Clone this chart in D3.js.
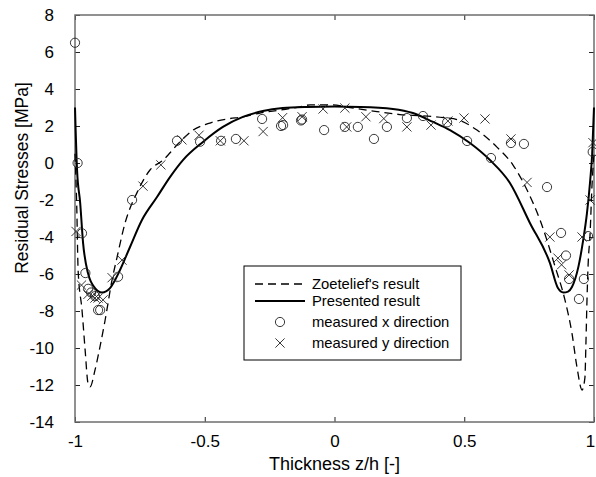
<!DOCTYPE html>
<html>
<head>
<meta charset="utf-8">
<script src="https://cdn.jsdelivr.net/npm/d3@7"></script>
<style>
  body { margin: 0; background: #fff; }
  text { font-family: Arial, "Liberation Sans", sans-serif; fill: #000; }
</style>
</head>
<body>
<svg id="chart"></svg>
<script>
// ticks
const xTicks = [-1, -0.5, 0, 0.5, 1];
const yTicks = [-14, -12, -10, -8, -6, -4, -2, 0, 2, 4, 6, 8];

// presented result (solid)
const solidZ = [-1, -0.992, -0.98, -0.969, -0.95, -0.923, -0.896, -0.865, -0.827, -0.788, -0.742, -0.684, -0.634, -0.584, -0.507, -0.43, -0.353, -0.276, -0.2, -0.106, 0, 0.1, 0.225, 0.302, 0.38, 0.445, 0.522, 0.599, 0.676, 0.753, 0.83, 0.861, 0.882, 0.9, 0.915, 0.94, 0.958, 0.973, 0.985, 0.993, 1];
const solidV = [3.0, -0.4, -2.16, -4.3, -5.95, -6.76, -7.0, -6.76, -5.8, -4.54, -3.08, -1.84, -0.76, 0.16, 1.14, 1.95, 2.49, 2.81, 2.97, 3.03, 3.05, 3.03, 2.92, 2.7, 2.22, 1.78, 1.08, 0.16, -1.08, -3.24, -5.4, -6.76, -7.0, -6.95, -6.7, -5.6, -4.2, -2.7, -1.0, 0.5, 3.0];

// Zoetelief's result (dashed)
const dashZ = [-1, -0.993, -0.988, -0.973, -0.961, -0.95, -0.942, -0.923, -0.904, -0.884, -0.857, -0.838, -0.807, -0.761, -0.711, -0.661, -0.607, -0.545, -0.48, -0.414, -0.353, -0.287, -0.21, -0.133, -0.094, -0.006, 0.06, 0.164, 0.252, 0.34, 0.42, 0.472, 0.549, 0.626, 0.688, 0.742, 0.792, 0.85, 0.888, 0.915, 0.934, 0.954, 0.965, 0.969, 0.973, 0.977, 0.985, 0.992, 1];
const dashV = [0.5, -2.5, -5.8, -7.95, -10.1, -11.9, -12.1, -11.2, -9.95, -8.5, -6.3, -5.1, -3.24, -1.6, -0.38, 0.15, 0.97, 1.78, 2.16, 2.38, 2.49, 2.7, 2.86, 3.03, 3.14, 3.14, 3.0, 2.78, 2.62, 2.55, 2.45, 2.35, 1.78, 0.86, -0.11, -1.46, -3.08, -5.6, -7.4, -9.2, -11.0, -12.27, -11.6, -9.7, -7.4, -5.6, -3.8, -1.3, 0.5];

// measured x direction (circles)
const measXZ = [-1, -0.99, -0.973, -0.96, -0.949, -0.938, -0.923, -0.911, -0.903, -0.834, -0.78, -0.607, -0.518, -0.437, -0.38, -0.279, -0.206, -0.198, -0.129, -0.125, -0.04, 0.04, 0.09, 0.152, 0.202, 0.279, 0.341, 0.434, 0.511, 0.603, 0.68, 0.73, 0.819, 0.873, 0.892, 0.904, 0.942, 0.961, 0.977, 0.995];
const measXV = [6.5, 0, -3.8, -5.95, -6.8, -7.0, -7.2, -7.95, -7.95, -6.15, -2.0, 1.2, 1.15, 1.2, 1.3, 2.38, 2.0, 2.05, 2.3, 2.35, 1.78, 1.95, 1.95, 1.3, 1.95, 2.43, 2.54, 2.2, 1.19, 0.27, 1.08, 1.03, -1.3, -3.78, -5.0, -6.27, -7.35, -6.27, -3.95, 0.6];

// measured y direction (crosses)
const measYZ = [-0.996, -0.975, -0.95, -0.935, -0.923, -0.911, -0.892, -0.857, -0.819, -0.738, -0.669, -0.588, -0.522, -0.44, -0.349, -0.275, -0.2, -0.125, -0.044, 0.04, 0.047, 0.121, 0.19, 0.279, 0.372, 0.437, 0.499, 0.58, 0.68, 0.742, 0.83, 0.861, 0.875, 0.904, 0.954, 0.985, 0.996];
const measYV = [-3.7, -6.6, -7.1, -7.2, -7.3, -7.3, -7.4, -6.2, -5.25, -1.25, -0.1, 1.25, 1.5, 1.2, 1.2, 1.7, 2.45, 2.5, 2.92, 2.97, 1.95, 2.5, 2.4, 1.95, 2.05, 2.27, 2.43, 2.38, 1.3, -1.05, -4.0, -5.14, -5.5, -6.05, -4.0, -2.0, 1.1];

const legendLabels = ["Zoetelief's result", "Presented result", "measured x direction", "measured y direction"];

const width = 596, height = 477;
const margin = { left: 75, right: 594, top: 15, bottom: 422 };

const svg = d3.select("#chart")
  .attr("width", width)
  .attr("height", height);

const xscale = d3.scaleLinear().domain([-1, 1]).range([margin.left, margin.right]);
const yscale = d3.scaleLinear().domain([-14, 8]).range([margin.bottom, margin.top]);

const fmt = d => String(d);

// axes with inward ticks on all four sides
svg.append("g")
  .attr("transform", `translate(0,${margin.bottom})`)
  .call(d3.axisBottom(xscale).tickValues(xTicks).tickFormat(fmt).tickSize(-5).tickPadding(13))
  .call(g => g.selectAll("text").style("font-size", "17px"))
  .call(g => g.selectAll("text").filter(d => d === 1).attr("dx", -4));

svg.append("g")
  .attr("transform", `translate(0,${margin.top})`)
  .call(d3.axisTop(xscale).tickValues(xTicks).tickFormat("").tickSize(-5));

svg.append("g")
  .attr("transform", `translate(${margin.left},0)`)
  .call(d3.axisLeft(yscale).tickValues(yTicks).tickFormat(fmt).tickSize(-5).tickPadding(21))
  .call(g => g.selectAll("text").style("font-size", "17px"));

svg.append("g")
  .attr("transform", `translate(${margin.right},0)`)
  .call(d3.axisRight(yscale).tickValues(yTicks).tickFormat("").tickSize(-5));

svg.selectAll(".domain").remove();
svg.selectAll(".tick line").attr("stroke", "#222");

// frame
svg.append("rect")
  .attr("x", margin.left).attr("y", margin.top)
  .attr("width", margin.right - margin.left).attr("height", margin.bottom - margin.top)
  .attr("fill", "none")
  .attr("stroke", "#6e6e6e")
  .attr("stroke-width", 1.5);

// curves
const line = d3.line()
  .x(d => xscale(d[0]))
  .y(d => yscale(d[1]))
  .curve(d3.curveMonotoneX);

svg.append("path")
  .datum(dashZ.map((z, i) => [z, dashV[i]]))
  .attr("d", line)
  .attr("fill", "none")
  .attr("stroke", "#000")
  .attr("stroke-width", 1.3)
  .attr("stroke-dasharray", "8,5");

svg.append("path")
  .datum(solidZ.map((z, i) => [z, solidV[i]]))
  .attr("d", line)
  .attr("fill", "none")
  .attr("stroke", "#000")
  .attr("stroke-width", 2);

// markers
const r = 4.6;
const crossPath = (cx, cy) => `M${cx - r},${cy - r}L${cx + r},${cy + r}M${cx - r},${cy + r}L${cx + r},${cy - r}`;

svg.append("g").selectAll("circle")
  .data(measXZ.map((z, i) => [z, measXV[i]]))
  .enter()
  .append("circle")
  .attr("cx", d => xscale(d[0]))
  .attr("cy", d => yscale(d[1]))
  .attr("r", r)
  .attr("fill", "none")
  .attr("stroke", "#222")
  .attr("stroke-width", 0.9);

svg.append("g").selectAll("path")
  .data(measYZ.map((z, i) => [z, measYV[i]]))
  .enter()
  .append("path")
  .attr("d", d => crossPath(xscale(d[0]), yscale(d[1])))
  .attr("fill", "none")
  .attr("stroke", "#222")
  .attr("stroke-width", 0.9);

// axis titles
svg.append("text")
  .attr("x", (margin.left + margin.right) / 2)
  .attr("y", 470)
  .attr("text-anchor", "middle")
  .style("font-size", "18px")
  .text("Thickness z/h [-]");

svg.append("text")
  .attr("transform", "translate(28,178) rotate(-90)")
  .attr("text-anchor", "middle")
  .style("font-size", "17.5px")
  .text("Residual Stresses [MPa]");

// legend
const legend = svg.append("g");
legend.append("rect")
  .attr("x", 244).attr("y", 266)
  .attr("width", 217).attr("height", 94)
  .attr("fill", "#fff")
  .attr("stroke", "#000")
  .attr("stroke-width", 1);

const rowY = [284, 301, 322, 343];
legend.append("line")
  .attr("x1", 255).attr("x2", 305).attr("y1", rowY[0]).attr("y2", rowY[0])
  .attr("stroke", "#000").attr("stroke-width", 1.3).attr("stroke-dasharray", "8,5");
legend.append("line")
  .attr("x1", 255).attr("x2", 305).attr("y1", rowY[1]).attr("y2", rowY[1])
  .attr("stroke", "#000").attr("stroke-width", 2);
legend.append("circle")
  .attr("cx", 280).attr("cy", rowY[2]).attr("r", r)
  .attr("fill", "none").attr("stroke", "#222").attr("stroke-width", 0.9);
legend.append("path")
  .attr("d", crossPath(280, rowY[3]))
  .attr("fill", "none").attr("stroke", "#222").attr("stroke-width", 0.9);

legend.selectAll("text.lab")
  .data(legendLabels)
  .enter()
  .append("text")
  .attr("class", "lab")
  .attr("x", 312)
  .attr("y", (d, i) => rowY[i])
  .attr("dy", "0.35em")
  .style("font-size", "14.8px")
  .text(d => d);
</script>
</body>
</html>
